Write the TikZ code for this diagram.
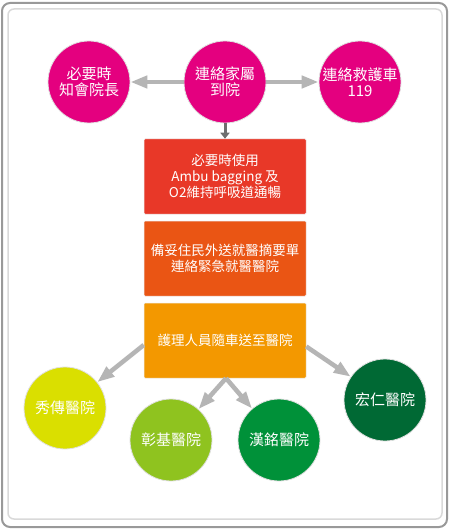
\documentclass[tikz,border=0pt]{standalone}
\usepackage{fontspec}
\setmainfont{Noto Sans CJK TC}
\usetikzlibrary{arrows.meta,positioning,shapes}

\definecolor{pinkc}{HTML}{E4007F}
\definecolor{boxa}{HTML}{E83828}
\definecolor{boxb}{HTML}{EA5514}
\definecolor{boxc}{HTML}{F39800}
\definecolor{hosa}{HTML}{DADF00}
\definecolor{hosb}{HTML}{8FC31F}
\definecolor{hosc}{HTML}{009139}
\definecolor{hosd}{HTML}{006934}
\definecolor{arrgray}{HTML}{B5B5B5}
\definecolor{darkarr}{HTML}{6E6E6E}

\tikzset{
  ball/.style={circle,minimum size=82,inner sep=0,draw=black!12,line width=0.8,
    text=white,align=center,font=\fontsize{15}{16}\selectfont},
  stepbox/.style={rectangle,rounded corners=1,minimum width=162,minimum height=75,
    inner sep=0,text=white,align=center,draw=black!8,line width=0.5,
    font=\fontsize{13.5}{16}\selectfont},
  flow/.style={draw=arrgray,line width=4.5,-{Triangle[length=17,width=12]}},
  down/.style={draw=darkarr,line width=3,-{Triangle[length=6,width=9]}}
}

\begin{document}
\begin{tikzpicture}[x=1pt,y=-1pt]
\useasboundingbox (0,0) rectangle (450,529);
% frame
  \fill[white] (0,0) rectangle (450,529);
  \draw[black!40,line width=2,rounded corners=8] (2,3) rectangle (447,527);
  \draw[black!15,line width=1.5,rounded corners=6] (8,9) rectangle (442,519);
% top row
  \node[ball,fill=pinkc] (boss) at (89,82) {必要時\\知會院長};
  \node[ball,fill=pinkc] (fam) at (225,82) {連絡家屬\\到院};
  \node[ball,fill=pinkc] (amb) at (360,82) {連絡救護車\\119};
  \draw[flow] (fam) -- (boss);
  \draw[flow] (fam) -- (amb);
% steps
  \node[stepbox,fill=boxa] (air) at (225,176.5) {必要時使用\\Ambu bagging 及\\O2維持呼吸道通暢};
  \node[stepbox,fill=boxb] (sheet) at (225,258.5) {備妥住民外送就醫摘要單\\連絡緊急就醫醫院};
  \node[stepbox,fill=boxc] (ride) at (225,340.5) {護理人員隨車送至醫院};
  \draw[down] (fam) -- (air);
% hospitals
  \node[ball,fill=hosa] (xiu) at (65,408) {秀傳醫院};
  \node[ball,fill=hosb] (zhang) at (171,440) {彰基醫院};
  \node[ball,fill=hosc] (han) at (279,440) {漢銘醫院};
  \node[ball,fill=hosd] (hong) at (385,400) {宏仁醫院};
  \draw[flow] ([yshift=-4.5]ride.west) -- (xiu);
  \draw[flow] ([yshift=-6]ride.east) -- (hong);
  \draw[flow] ([xshift=1]ride.south) -- (zhang);
  \draw[flow] ([xshift=1]ride.south) -- (han);
\end{tikzpicture}
\end{document}
